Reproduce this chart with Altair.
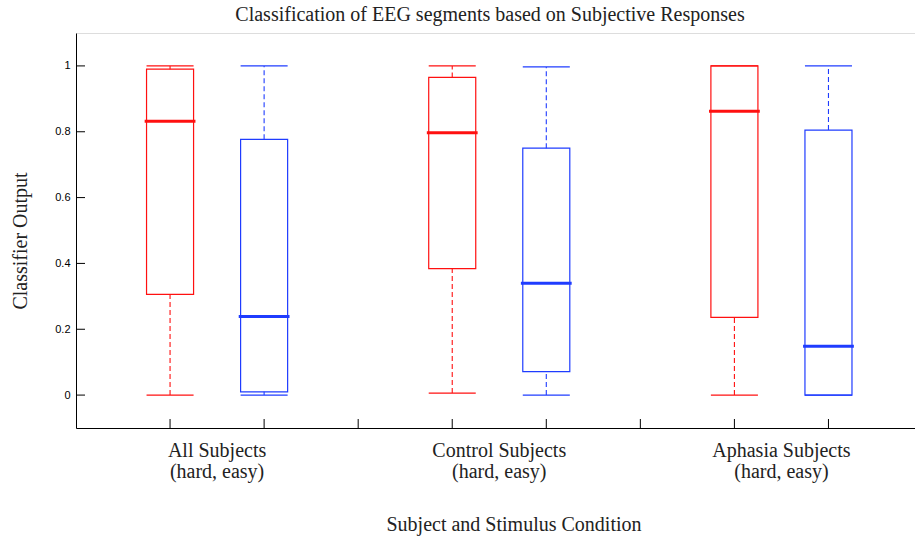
import altair as alt
import pandas as pd

# ---- data ----
positions = [1, 2, 4, 5, 7, 8]
groups = ["All Subjects", "All Subjects", "Control Subjects", "Control Subjects",
          "Aphasia Subjects", "Aphasia Subjects"]
conditions = ["hard", "easy", "hard", "easy", "hard", "easy"]
mins = [0.0, 0.0, 0.006, 0.0, 0.0, 0.0]
q1s = [0.306, 0.010, 0.384, 0.071, 0.236, 0.0]
medians = [0.832, 0.239, 0.797, 0.340, 0.862, 0.148]
q3s = [0.990, 0.777, 0.965, 0.750, 1.0, 0.805]
maxs = [1.0, 1.0, 1.0, 0.997, 1.0, 1.0]

group_labels = ["All Subjects", "Control Subjects", "Aphasia Subjects"]
group_centers = [1.5, 4.5, 7.5]
group_sub = ["(hard, easy)", "(hard, easy)", "(hard, easy)"]

x_ticks = [1, 2, 3, 4, 5, 6, 7, 8]
y_ticks = [0, 0.2, 0.4, 0.6, 0.8, 1.0]

title_text = "Classification of EEG segments based on Subjective Responses"
x_title = "Subject and Stimulus Condition"
y_title = "Classifier Output"

RED = "#ff1010"
BLUE = "#1f3cff"
SERIF = "Liberation Serif"
SANS = "Liberation Sans"
TXT = "#222222"

df = pd.DataFrame({
    "pos": positions, "group": groups, "condition": conditions,
    "min": mins, "q1": q1s, "med": medians, "q3": q3s, "max": maxs,
})
gdf = pd.DataFrame({"center": group_centers, "label": group_labels, "sub": group_sub})
xt = pd.DataFrame({"v": x_ticks})
yt = pd.DataFrame({"v": y_ticks})

xscale = alt.Scale(domain=[0, 8.92], nice=False, zero=False)
yscale = alt.Scale(domain=[-0.1, 1.1], nice=False, zero=False)
color = alt.Color("condition:N", scale=alt.Scale(domain=["hard", "easy"], range=[RED, BLUE]), legend=None)
stroke = alt.Stroke("condition:N", scale=alt.Scale(domain=["hard", "easy"], range=[RED, BLUE]), legend=None)

xaxis = alt.Axis(ticks=False, labels=False, grid=False, domainColor="black", domainWidth=1, title=None)
yaxis = alt.Axis(values=y_ticks, ticks=False, grid=False, domainColor="black", domainWidth=1,
                 labelFont=SANS, labelFontSize=11, labelColor="black", labelPadding=6,
                 format="~g", title=None)

def X(f):
    return alt.X(f, type="quantitative", scale=xscale, axis=xaxis, title=None)

def Y(f):
    return alt.Y(f, type="quantitative", scale=yscale, axis=yaxis, title=None)

base = alt.Chart(df).transform_calculate(
    xl="datum.pos - 0.25", xr="datum.pos + 0.25",
    ml="datum.pos - 0.27", mr="datum.pos + 0.27",
)

boxes = base.mark_rect(fill="white", strokeWidth=1.2).encode(
    x=X("xl"), x2="xr:Q", y=Y("q1"), y2="q3:Q", stroke=stroke)
upper = base.mark_rule(strokeDash=[5, 3], strokeWidth=1.1).encode(
    x=X("pos"), y=Y("q3"), y2="max:Q", color=color)
lower = base.mark_rule(strokeDash=[5, 3], strokeWidth=1.1).encode(
    x=X("pos"), y=Y("min"), y2="q1:Q", color=color)
cap_hi = base.mark_rule(strokeWidth=1.2).encode(
    x=X("xl"), x2="xr:Q", y=Y("max"), color=color)
cap_lo = base.mark_rule(strokeWidth=1.2).encode(
    x=X("xl"), x2="xr:Q", y=Y("min"), color=color)
median = base.mark_rule(strokeWidth=3).encode(
    x=X("ml"), x2="mr:Q", y=Y("med"), color=color)

xtick_marks = alt.Chart(xt).mark_rule(color="black", strokeWidth=1).encode(
    x=X("v"), y=alt.value(395), y2=alt.value(386))
ytick_marks = alt.Chart(yt).mark_rule(color="black", strokeWidth=1).encode(
    y=Y("v"), x=alt.value(0), x2=alt.value(9))

glabel1 = alt.Chart(gdf).mark_text(font=SERIF, fontSize=20, color=TXT, baseline="alphabetic").encode(
    x=X("center"), y=alt.value(424), text="label:N")
glabel2 = alt.Chart(gdf).mark_text(font=SERIF, fontSize=20, color=TXT, baseline="alphabetic").encode(
    x=X("center"), y=alt.value(445), text="sub:N")

ttl = alt.Chart(pd.DataFrame({"t": [title_text]})).mark_text(
    font=SERIF, fontSize=20, color=TXT, baseline="alphabetic").encode(
    x=alt.value(414), y=alt.value(-12), text="t:N")
xttl = alt.Chart(pd.DataFrame({"t": [x_title]})).mark_text(
    font=SERIF, fontSize=20, color=TXT, baseline="alphabetic").encode(
    x=alt.value(438), y=alt.value(498), text="t:N")
yttl = alt.Chart(pd.DataFrame({"t": [y_title]})).mark_text(
    font=SERIF, fontSize=20, color=TXT, baseline="middle", angle=270).encode(
    x=alt.value(-55), y=alt.value(208), text="t:N")

chart = alt.layer(
    boxes, upper, lower, cap_hi, cap_lo, median, xtick_marks, ytick_marks,
    glabel1, glabel2, ttl, xttl, yttl,
).properties(
    width=839, height=395,
    autosize=alt.AutoSizeParams(type="none"),
    padding={"left": 76, "top": 33, "right": 0, "bottom": 112},
).configure_view(stroke=None).configure(background="white")

chart.save("out.html", embed_options={"renderer": "svg", "actions": False})
